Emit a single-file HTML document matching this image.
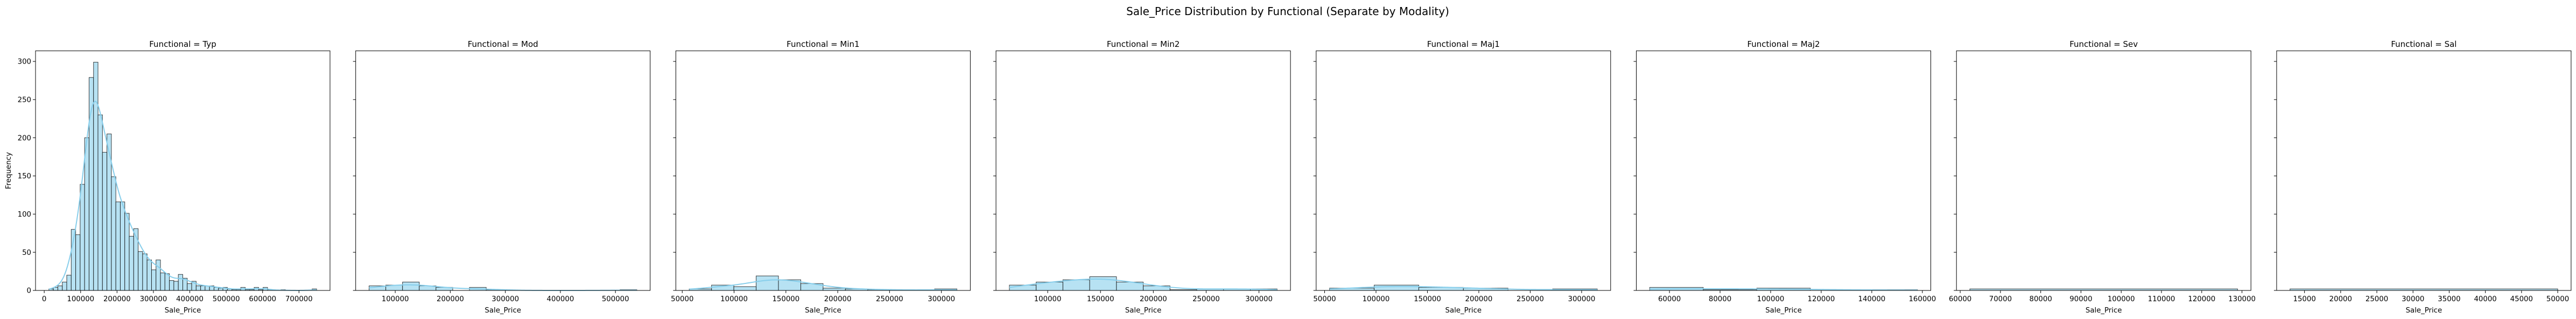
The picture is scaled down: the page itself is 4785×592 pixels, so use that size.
<!DOCTYPE html>
<html><head><meta charset="utf-8">
<style>
html,body{margin:0;padding:0;background:#fff;}
svg{display:block;font-family:"DejaVu Sans","Liberation Sans",sans-serif;}
</style></head>
<body>
<svg id="chart" width="4785" height="592" xmlns="http://www.w3.org/2000/svg">
<text x="2392" y="28" text-anchor="middle" font-size="20" fill="#000">Sale_Price Distribution by Functional (Separate by Modality)</text>
</svg>
<script>
const panelNames = ["Typ","Mod","Min1","Min2","Maj1","Maj2","Sev","Sal"];
const binStarts = [12870, 52500, 56746, 63743, 54800, 52180, 62400, 13000];
const binEnds = [748500, 538750, 315000, 317150, 315200, 158040, 128900, 50000];
const countsTyp = [2,4,6,11,20,80,73,139,200,279,299,230,181,205,149,116,116,101,71,81,51,48,40,27,40,23,22,13,12,21,16,9,12,6,6,6,6,4,3,4,2,1,1,4,1,1,4,1,4,1,0,0,1,0,0,0,0,0,0,2];
const countsMod = [6,7,11,6,4,0,4,1,0,0,0,0,0,0,0,1];
const countsMin1 = [2,7,5,19,14,9,3,2,1,1,0,2];
const countsMin2 = [7,11,14,18,11,6,1,2,2,2];
const countsMaj1 = [3,7,4,3,0,2];
const countsMaj2 = [4,1,3,0,1];
const countsSev = [2];
const countsSal = [2];
const ticksTyp = [0,100000,200000,300000,400000,500000,600000,700000];
const ticksMod = [100000,200000,300000,400000,500000];
const ticksMin1 = [50000,100000,150000,200000,250000,300000];
const ticksMin2 = [100000,150000,200000,250000,300000];
const ticksMaj1 = [50000,100000,150000,200000,250000,300000];
const ticksMaj2 = [60000,80000,100000,120000,140000,160000];
const ticksSev = [60000,70000,80000,90000,100000,110000,120000,130000];
const ticksSal = [15000,20000,25000,30000,35000,40000,45000,50000];
const yTicks = [0,50,100,150,200,250,300];
const yMax = 313.9;

const allCounts = [countsTyp,countsMod,countsMin1,countsMin2,countsMaj1,countsMaj2,countsSev,countsSal];
const allTicks = [ticksTyp,ticksMod,ticksMin1,ticksMin2,ticksMaj1,ticksMaj2,ticksSev,ticksSal];

const NS = "http://www.w3.org/2000/svg";
const svg = document.getElementById("chart");
const TOP = 94.3, BOT = 539, W = 547, PITCH = 594.7, LEFT0 = 66;
function mk(tag, attrs, parent){const e=document.createElementNS(NS,tag);for(const k in attrs)e.setAttribute(k,attrs[k]);(parent||svg).appendChild(e);return e;}
const yScale = v => BOT - v/yMax*(BOT-TOP);

panelNames.forEach((name, p) => {
  const L = LEFT0 + p*PITCH;
  const counts = allCounts[p], ticks = allTicks[p];
  const s = binStarts[p], e = binEnds[p], r = e - s;
  const x0 = s - 0.05*r, x1 = e + 0.05*r;
  const xScale = v => L + (v - x0)/(x1 - x0)*W;
  const g = mk("g", {});
  
  
  const bw = r / counts.length;
  // bars
  counts.forEach((c, i) => {
    const bx = xScale(s + i*bw), bx2 = xScale(s + (i+1)*bw);
    const rect = mk("rect", {x:bx, y:yScale(c), width:bx2-bx, height:BOT-yScale(c), fill:"rgb(183,226,243)", stroke:"rgba(0,0,0,0.75)", "stroke-width":"1"}, g);
    
    
  });
  // KDE
  const n = counts.reduce((a,b)=>a+b,0);
  if (counts.length > 1 && n > 2) {
    let mean = 0; counts.forEach((c,i)=>{mean += c*(s+(i+0.5)*bw);}); mean/=n;
    let vr = 0; counts.forEach((c,i)=>{const d=s+(i+0.5)*bw-mean; vr+=c*d*d;}); vr/=(n-1);
    const h = Math.sqrt(vr)*Math.pow(n,-0.2);
    let d = "";
    for (let k=0;k<=200;k++){
      const xv = s + r*k/200;
      let dens = 0;
      counts.forEach((c,i)=>{const u=(xv-(s+(i+0.5)*bw))/h; dens += c*Math.exp(-0.5*u*u);});
      dens = dens/(h*Math.sqrt(2*Math.PI)); // counts per unit
      const yv = dens*bw;
      d += (k?"L":"M") + xScale(xv).toFixed(2) + "," + yScale(yv).toFixed(2);
    }
    const path = mk("path", {d:d, fill:"none", stroke:"#87CEEB", "stroke-width":"2"}, g);
    
    
  }
  // frame
  const frame = mk("rect", {x:L, y:TOP, width:W, height:BOT-TOP, fill:"none", stroke:"#000", "stroke-width":"1"}, g);
  
  
  // title
  const t = mk("text", {x:L+W/2, y:87, "text-anchor":"middle", "font-size":"15"}, g);
  t.textContent = "Functional = " + name;
  
  
  // x ticks
  ticks.forEach(tv => {
    const tx = xScale(tv);
    mk("line", {x1:tx, x2:tx, y1:BOT, y2:BOT+5, stroke:"#000", "stroke-width":"1"}, g);
    const tl = mk("text", {x:tx, y:559, "text-anchor":"middle", "font-size":"13.3"}, g);
    tl.textContent = String(tv);
    
    
  });
  const xl = mk("text", {x:L+W/2, y:580, "text-anchor":"middle", "font-size":"13.3"}, g);
  xl.textContent = "Sale_Price";
  
  
  // y ticks
  yTicks.forEach(yv => {
    const ty = yScale(yv);
    mk("line", {x1:L-5, x2:L, y1:ty, y2:ty, stroke:"#000", "stroke-width":"1"}, g);
    if (p === 0) {
      const yl = mk("text", {x:L-8, y:ty+4.6, "text-anchor":"end", "font-size":"13.3"}, g);
      yl.textContent = String(yv);
      
      
    }
  });
  if (p === 0) {
    const yt = mk("text", {x:0, y:0, "text-anchor":"middle", "font-size":"13.3", transform:"translate(20,"+((TOP+BOT)/2)+") rotate(-90)"}, g);
    yt.textContent = "Frequency";
    
    
  }
});
</script>
</body></html>
